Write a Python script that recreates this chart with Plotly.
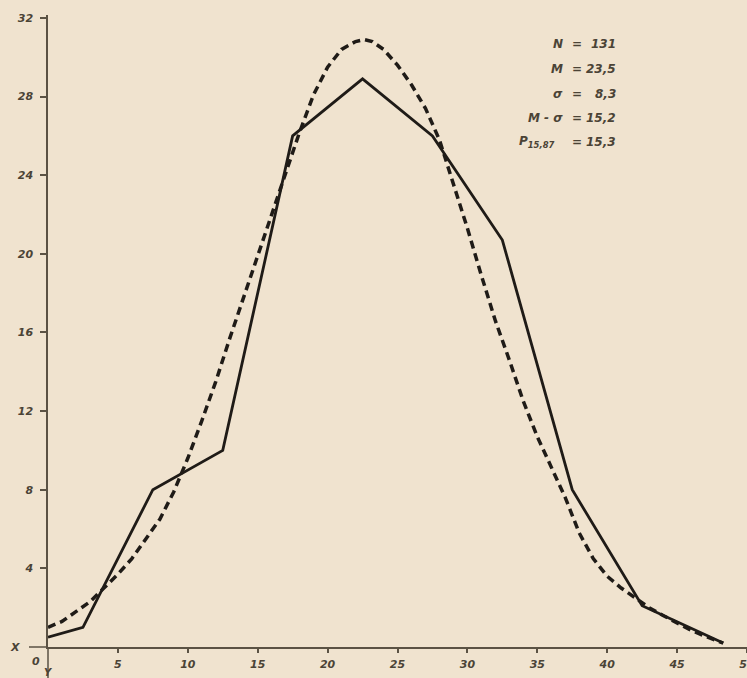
import plotly.graph_objects as go

# Frequency polygon (class midpoints) - solid line
poly_x = [0, 2.5, 7.5, 12.5, 17.5, 22.5, 27.5, 32.5, 37.5, 42.5, 48.3]
poly_y = [0.5, 1.0, 8.0, 10.0, 26.0, 28.9, 26.0, 20.7, 8.0, 2.1, 0.2]

# Fitted normal curve - dashed line
curve_x = [0, 1, 2, 3, 4, 5, 6, 7, 8, 9, 10, 11, 12, 13, 14, 15, 16, 17, 18, 19,
           20, 21, 22, 22.6, 23.2, 24, 25, 26, 27, 28, 29, 30, 31, 32, 33, 34, 35,
           36, 37, 38, 39, 40, 41, 42, 43, 44, 45, 46, 47, 48.3]
curve_y = [1.0, 1.3, 1.8, 2.3, 3.0, 3.7, 4.5, 5.5, 6.5, 7.9, 9.6, 11.5, 13.5, 15.7,
           17.8, 19.9, 22.1, 24.1, 26.2, 28.1, 29.5, 30.4, 30.8, 30.9, 30.8, 30.4,
           29.6, 28.6, 27.4, 25.8, 23.6, 21.3, 18.9, 16.6, 14.6, 12.5, 10.7, 9.2,
           7.6, 5.8, 4.5, 3.6, 3.0, 2.5, 2.0, 1.6, 1.2, 0.85, 0.55, 0.2]

x_ticks = [5, 10, 15, 20, 25, 30, 35, 40, 45, 50]
y_ticks = [4, 8, 12, 16, 20, 24, 28, 32]

stat_labels = ["N", "M", "σ", "M - σ", "P<sub>15,87</sub>"]
stat_values = ["131", "23,5", "8,3", "15,2", "15,3"]

BG = "#f0e3cf"
INK = "#1f1b17"
AX = "#5b5244"
TXT = "#4b4336"
FONT = dict(family="DejaVu Sans", size=11, color=TXT, style="italic", weight="bold")

fig = go.Figure()
fig.add_trace(go.Scatter(x=curve_x, y=curve_y, mode="lines",
                         line=dict(color=INK, width=3.5, dash="8px,5px"),
                         hoverinfo="skip", showlegend=False))
fig.add_trace(go.Scatter(x=poly_x, y=poly_y, mode="lines",
                         line=dict(color=INK, width=2.8),
                         hoverinfo="skip", showlegend=False))

W, H = 747, 678
L, R, T, B = 48, 0, 15, 31
pw, ph = W - L - R, H - T - B

fig.update_layout(
    width=W, height=H,
    margin=dict(l=L, r=R, t=T, b=B, pad=0),
    paper_bgcolor=BG, plot_bgcolor=BG,
    xaxis=dict(range=[0, 50], tickvals=x_ticks, ticktext=[str(v) for v in x_ticks],
               showgrid=False, zeroline=False, showline=True, linecolor=AX, linewidth=1.5,
               ticks="outside", ticklen=4, tickwidth=1.5, tickcolor=AX, automargin=False,
               tickfont=FONT, ticklabelstandoff=2, ticklabeloverflow="allow"),
    yaxis=dict(range=[0, 32.15], tickvals=y_ticks, ticktext=[str(v) for v in y_ticks],
               showgrid=False, zeroline=False, showline=True, linecolor=AX, linewidth=1.5,
               ticks="outside", ticklen=6, tickwidth=1.5, tickcolor=AX, automargin=False,
               tickfont=FONT, ticklabelstandoff=5),
)

# axis extensions beyond the origin
fig.add_shape(type="line", xref="paper", yref="paper", x0=0, x1=0, y0=0, y1=-31 / ph,
              line=dict(color=AX, width=1.5))
fig.add_shape(type="line", xref="paper", yref="paper", x0=-19 / pw, x1=0, y0=0, y1=0,
              line=dict(color=AX, width=1.5))

# axis letters and origin
fig.add_annotation(text="X", xref="paper", yref="paper", x=-33 / pw, y=0, showarrow=False,
                   font=FONT, xanchor="center", yanchor="middle")
fig.add_annotation(text="0", xref="paper", yref="paper", x=-12 / pw, y=-15 / ph, showarrow=False,
                   font=FONT, xanchor="center", yanchor="middle")
fig.add_annotation(text="Y", xref="paper", yref="paper", x=0, y=-25 / ph, showarrow=False,
                   font=dict(FONT, size=10), xanchor="center", yanchor="middle")

# statistics block
row_px = [44, 69, 94, 118, 142]
SFONT = dict(family="DejaVu Sans", size=12, color=TXT, style="italic", weight="bold")
for lab, val, py in zip(stat_labels, stat_values, row_px):
    yv = (H - B - py) / ph * 32.15
    lx = 565 if "sub" not in lab else 556
    fig.add_annotation(text=lab, x=(lx - L) / pw * 50, y=yv, xref="x", yref="y",
                       showarrow=False, xanchor="right", yanchor="middle", font=SFONT)
    fig.add_annotation(text="=", x=(577 - L) / pw * 50, y=yv, xref="x", yref="y",
                       showarrow=False, xanchor="center", yanchor="middle", font=SFONT)
    fig.add_annotation(text=val, x=(618 - L) / pw * 50, y=yv, xref="x", yref="y",
                       showarrow=False, xanchor="right", yanchor="middle", font=SFONT)

fig.write_html("out.html", config={"displayModeBar": False},
               post_script="document.body.style.margin='0';document.body.style.overflow='hidden';")
